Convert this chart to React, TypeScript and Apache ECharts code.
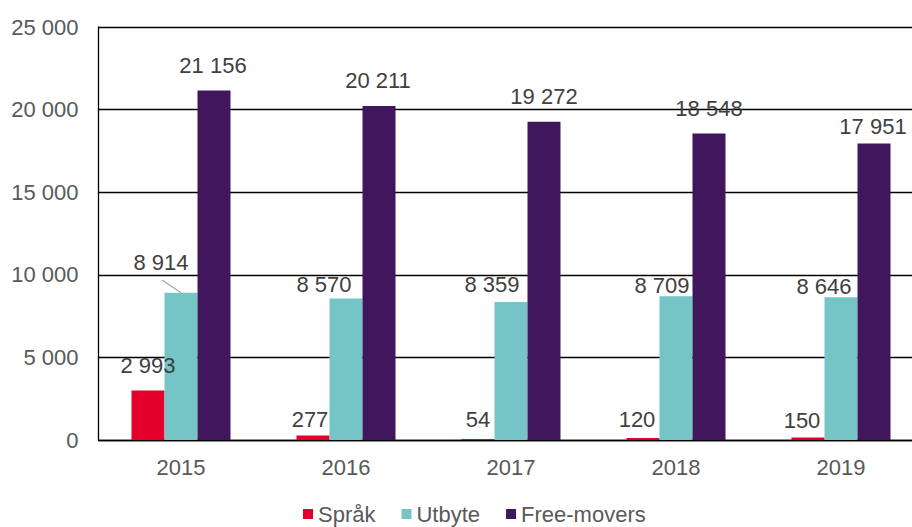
import React, { useEffect, useRef } from "react";
import * as echarts from "echarts";

const categories = ["2015", "2016", "2017", "2018", "2019"];
const sprak = [2993, 277, 54, 120, 150];
const utbyte = [8914, 8570, 8359, 8709, 8646];
const freeMovers = [21156, 20211, 19272, 18548, 17951];
const seriesNames = ["Språk", "Utbyte", "Free-movers"];
const yTicks = { min: 0, max: 25000, interval: 5000 };

// label placement (layout only): horizontal shift and height of label centre above bar top
const sprakLabelDx = [0, -3, 0, -6, -6];
const sprakLabelAbove = [24, 15.4, 18.4, 18, 16.5];
const utbyteLabelDx = [-20, -22, -19, -14, -17];
const utbyteLabelAbove = [29.7, 13.4, 16, 10, 10];
const fmLabelDx = [-1, -1, 0, 0, -1];
const fmLabelAbove = [24, 24.4, 24.3, 23.6, 15.7];

const fmt = (v: number) => {
  const s = String(Math.round(v));
  return s.replace(/\B(?=(\d{3})+(?!\d))/g, " ");
};

const BASE = 10;
const FONT = "Liberation Sans, Arial, sans-serif";

function makeSeries(name: string, data: number[], color: string, dxs: number[], aboves: number[]) {
  return {
    name,
    type: "bar",
    barGap: "0%",
    barCategoryGap: "40%",
    itemStyle: { color },
    data,
    label: {
      show: true,
      position: "top",
      distance: 0,
      fontFamily: FONT,
      fontSize: 22,
      color: "#404040",
      formatter: (p: any) => fmt(p.value),
    },
    labelLayout: (p: any) => ({
      dx: dxs[p.dataIndex],
      dy: -(aboves[p.dataIndex] - BASE),
    }),
  };
}

export default function App() {
  const ref = useRef<HTMLDivElement>(null);
  useEffect(() => {
    if (!ref.current) return;
    const chart = echarts.init(ref.current, undefined, { renderer: "svg" });
    chart.setOption({
      animation: false,
      backgroundColor: "#ffffff",
      textStyle: { fontFamily: FONT },
      grid: {
        left: 98.5,
        top: 27,
        width: 825,
        bottom: 87,
        containLabel: false,
        outerBoundsMode: "none",
      },
      legend: {
        data: seriesNames,
        left: 303,
        top: 503,
        padding: 0,
        icon: "rect",
        itemWidth: 10,
        itemHeight: 10,
        itemGap: 26,
        textStyle: { fontSize: 22, lineHeight: 20, color: "#595959", fontFamily: FONT },
      },
      xAxis: {
        type: "category",
        data: categories,
        axisTick: { show: false },
        axisLine: { show: true, lineStyle: { color: "#000000", width: 1.3 } },
        axisLabel: { fontSize: 22, color: "#595959", margin: 16, fontFamily: FONT },
      },
      yAxis: {
        type: "value",
        min: yTicks.min,
        max: yTicks.max,
        interval: yTicks.interval,
        axisLine: { show: true, lineStyle: { color: "#000000", width: 1.3 } },
        axisTick: { show: false },
        splitLine: { show: true, lineStyle: { color: "#000000", width: 1.3 } },
        axisLabel: {
          fontSize: 22,
          color: "#595959",
          margin: 20,
          fontFamily: FONT,
          formatter: (v: number) => fmt(v),
        },
      },
      series: [
        makeSeries(seriesNames[0], sprak, "#E4002B", sprakLabelDx, sprakLabelAbove),
        makeSeries(seriesNames[1], utbyte, "#76C5C6", utbyteLabelDx, utbyteLabelAbove),
        makeSeries(seriesNames[2], freeMovers, "#40175D", fmLabelDx, fmLabelAbove),
      ],
    });
    // leader line for the displaced 2015 Utbyte label, from the library's own scale
    const end = chart.convertToPixel({ seriesIndex: 1 }, [0, utbyte[0]]) as number[];
    if (end) {
      const lx = end[0] + utbyteLabelDx[0];
      const ly = end[1] - utbyteLabelAbove[0];
      chart.setOption({
        graphic: [
          {
            type: "line",
            shape: { x1: lx + 1, y1: ly + 17, x2: end[0], y2: end[1] },
            style: { stroke: "#A6A6A6", lineWidth: 1.3 },
            z: 10,
          },
        ],
      });
    }
    return () => chart.dispose();
  }, []);
  return <div ref={ref} style={{ width: 912, height: 527, position: "absolute", left: 0, top: 0 }} />;
}
